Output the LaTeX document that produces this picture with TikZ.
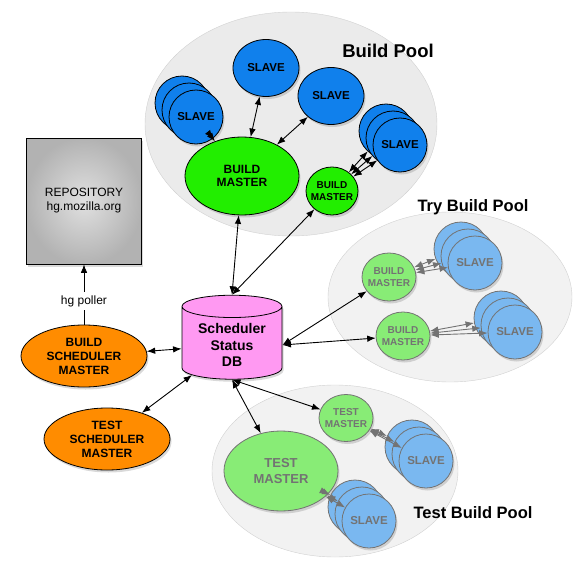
\documentclass[tikz,border=0pt]{standalone}
\usepackage{fontspec}
\setmainfont{Liberation Sans}
\usetikzlibrary{shapes,arrows.meta,shadows}
\definecolor{slaveblue}{RGB}{16,128,236}
\definecolor{softblue}{RGB}{122,184,240}
\definecolor{mastergreen}{RGB}{34,238,0}
\definecolor{softgreen}{RGB}{136,236,118}
\definecolor{schedorange}{RGB}{255,140,0}
\definecolor{dbpink}{RGB}{255,153,242}

\begin{document}
\begin{tikzpicture}[x=1pt,y=-1pt,>={Latex[length=8.5pt,width=6.5pt]},
  pool/.style={ellipse,draw=black!18,fill=black!8},
  dropped/.style={drop shadow={opacity=.3,shadow xshift=1.5pt,shadow yshift=-2.5pt}},
  slave/.style={circle,draw,line width=.8pt,fill=slaveblue,minimum size=54pt,inner sep=0pt,dropped,font=\bfseries\fontsize{11.5}{13}\selectfont},
  softslave/.style={slave,draw=black!55,fill=softblue,text=black!55},
  master/.style={ellipse,draw,line width=.8pt,fill=mastergreen,align=center,inner sep=-6pt,dropped,font=\bfseries\fontsize{10}{11.5}\selectfont},
  softmaster/.style={master,draw=black!55,fill=softgreen,text=black!55},
  sched/.style={ellipse,draw,line width=.8pt,fill=schedorange,minimum width=126pt,minimum height=62pt,align=center,inner sep=0pt,dropped,font=\bfseries\fontsize{12}{14}\selectfont},
  link/.style={<->,line width=.9pt},
  softlink/.style={<->,line width=.9pt,black!55},
  pooltitle/.style={font=\bfseries\fontsize{16.5}{18}\selectfont}]
  \useasboundingbox (0,0) rectangle (584,570);

  % pools
  \node[pool,minimum width=292pt,minimum height=224pt] (buildpool) at (291,124) {};
  \node[pool,fill=black!5,minimum width=244pt,minimum height=170pt] (trypool) at (450,297) {};
  \node[pool,fill=black!5,minimum width=246pt,minimum height=172pt] (testpool) at (335,471) {};
  \node[pooltitle,font=\bfseries\fontsize{18.5}{20}\selectfont] (buildtitle) at (388,51) {Build Pool};
  \node[pooltitle] (trytitle) at (473,207) {Try Build Pool};
  \node[pooltitle] (testtitle) at (473,513) {Test Build Pool};

  % slaves
  \node[slave,ellipse,minimum width=66pt,minimum height=57pt] (top) at (266,68) {SLAVE};
  \node[slave,ellipse,minimum width=66pt,minimum height=57pt] (mid) at (331,96) {SLAVE};
  \foreach \n/\x/\y/\s in {bsl/196/117/slave, bsr/400/145/slave, ts1/475/263/softslave,
      ts2/515/332/softslave, xs1/426/461/softslave, xs2/369/521/softslave}{
    \node[\s] (\n-1) at (\x-14,\y-14) {};
    \node[\s] (\n-2) at (\x-7,\y-7) {};
    \node[\s] (\n) at (\x,\y) {SLAVE};
  }

  % masters
  \node[master,minimum width=114pt,minimum height=78pt,font=\bfseries\fontsize{12}{13.5}\selectfont] (bm) at (242,176) {BUILD\\MASTER};
  \node[master,minimum width=52pt,minimum height=48pt] (sbm) at (332,191) {BUILD\\MASTER};
  \node[softmaster,minimum width=54pt,minimum height=48pt] (tm1) at (389,277) {BUILD\\MASTER};
  \node[softmaster,minimum width=54pt,minimum height=48pt] (tm2) at (403,336) {BUILD\\MASTER};
  \node[softmaster,minimum width=54pt,minimum height=47pt] (tsm) at (346,418) {TEST\\MASTER};
  \node[softmaster,minimum width=114pt,minimum height=80pt,font=\bfseries\fontsize{13}{16}\selectfont] (tbm) at (281,471) {TEST\\MASTER};

  % scheduler side
  \node[draw,line width=.8pt,shading=radial,inner color=black!12,outer color=black!30,minimum width=115pt,minimum height=126pt,align=center,dropped,font=\fontsize{12}{14}\selectfont] (repo) at (84,201) {REPOSITORY\\hg.mozilla.org};
  \node[sched] (bsm) at (84,356) {BUILD\\SCHEDULER\\MASTER};
  \node[sched] (tsched) at (107,439) {TEST\\SCHEDULER\\MASTER};
  \node[cylinder,shape border rotate=90,aspect=.3,draw,line width=.8pt,fill=dbpink,minimum width=100pt,minimum height=84pt,align=center,dropped,font=\bfseries\fontsize{14}{16.5}\selectfont] (db) at (232,345) {Scheduler\\Status\\DB};

  % connectors
  \draw[->,line width=.7pt] (bsm) -- node[pos=.39,fill=white,font=\fontsize{12}{14}\selectfont]{hg poller} (repo);
  \draw[link] (bsm) -- (db);
  \draw[link] (tsched) -- (db);
  \draw[link] (db.north) -- (bm);
  \draw[link] (db.north) -- (sbm);
  \draw[link] (top) -- (bm);
  \draw[link] (mid) -- (bm);
  \draw[link] (bsl) -- (bm);
  \draw[link] (db.east) -- (tm1);
  \draw[link] (db.east) -- (tm2);
  \draw[link] (db.south) -- (tsm);
  \draw[link] (db.south) -- (tbm);
  \foreach \m/\n/\l in {sbm/bsr/link, tm1/ts1/softlink, tm2/ts2/softlink, tsm/xs1/softlink, tbm/xs2/softlink}
    \foreach \k in {\n-1,\n-2,\n}
      \draw[\l] (\m) -- (\k);
\end{tikzpicture}
\end{document}
